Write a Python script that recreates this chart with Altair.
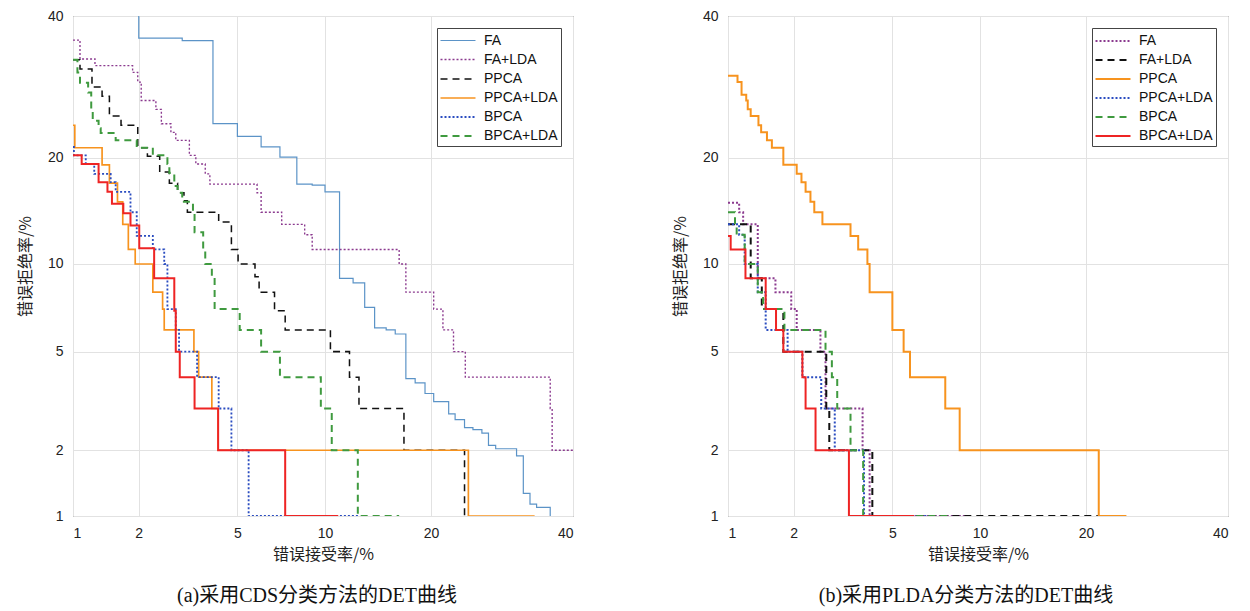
import altair as alt
import pandas as pd
from statistics import NormalDist

# ---------------- text ----------------
TICKS = [1, 2, 5, 10, 20, 40]
X_TITLE = "错误接受率/%"
Y_TITLE = "错误拒绝率/%"
CAPTION_A = "(a)采用CDS分类方法的DET曲线"
CAPTION_B = "(b)采用PLDA分类方法的DET曲线"
NAMES = ["FA", "FA+LDA", "PPCA", "PPCA+LDA", "BPCA", "BPCA+LDA"]

# ---------------- panel (a): (false accept %, false reject %) step points ----------------
A_FA = [(2.0, 60), (2.0, 36.5), (3.05, 36.1), (4.04, 24.2), (5.0, 22.6), (6.1, 21.3), (7.1, 20.1),
        (8.1, 17.1), (9.1, 17.0), (10.0, 16.3), (11.1, 9.0), (12.2, 8.7), (13.2, 7.2), (14.1, 6.1),
        (15.2, 6.0), (16.1, 5.8), (17.2, 3.95), (18.2, 3.8), (19.3, 3.45), (20.3, 3.2), (22.1, 2.85),
        (22.9, 2.7), (24.1, 2.5), (25.2, 2.45), (26.4, 2.37), (27.3, 2.1), (28.3, 2.03), (31.3, 1.89),
        (32.3, 1.28), (33.3, 1.14), (34.3, 1.1), (36.4, 1.0)]
A_FA_LDA = [(1.0, 36.2), (1.08, 33.3), (1.27, 32.3), (1.88, 31.3), (1.98, 29.9), (2.05, 27.3),
            (2.37, 26.1), (2.5, 24.2), (2.74, 23.1), (2.87, 22.1), (3.26, 20.3), (3.46, 19.3),
            (3.77, 18.2), (3.93, 17.1), (5.9, 16.2), (6.1, 14.3), (7.2, 13.2), (8.6, 12.3), (9.1, 11.1),
            (16.5, 10.0), (17.2, 8.1), (20.3, 7.1), (21.4, 6.0), (22.7, 5.0), (24.2, 4.0), (36.4, 3.0),
            (36.7, 2.0), (40.0, 2.0)]
A_PPCA = [(1.0, 33.2), (1.08, 31.8), (1.23, 29.2), (1.37, 27.9), (1.48, 25.2), (1.67, 24.0),
          (1.98, 21.2), (2.18, 20.2), (2.46, 18.4), (2.7, 17.2), (2.92, 16.2), (3.1, 15.4), (3.2, 14.3),
          (4.25, 13.4), (4.75, 11.1), (5.03, 10.0), (5.8, 9.1), (6.0, 8.1), (6.8, 7.0), (7.4, 6.0),
          (10.4, 5.0), (11.9, 4.0), (12.7, 3.0), (17.0, 2.0), (24.1, 1.0)]
A_PPCA_LDA = [(1.0, 24.0), (1.02, 21.2), (1.37, 19.2), (1.48, 17.2), (1.61, 15.3), (1.7, 13.2),
              (1.8, 11.1), (1.93, 10.0), (2.3, 8.1), (2.53, 7.1), (2.57, 6.0), (3.4, 5.0), (3.55, 4.0),
              (4.0, 3.0), (4.23, 2.0), (24.6, 1.0), (34.0, 1.0)]
A_BPCA = [(1.0, 21.3), (1.01, 20.3), (1.15, 19.3), (1.26, 18.2), (1.5, 17.3), (1.58, 16.3),
          (1.84, 14.3), (1.96, 12.2), (2.3, 11.1), (2.57, 10.0), (2.65, 7.1), (2.87, 6.0), (2.96, 5.0),
          (3.5, 4.0), (4.25, 3.0), (4.75, 2.0), (5.5, 1.0), (12.7, 1.0)]
A_BPCA_LDA = [(1.0, 33.2), (1.05, 31.3), (1.08, 29.8), (1.18, 28.4), (1.22, 26.1), (1.24, 24.6),
              (1.32, 23.6), (1.35, 23.0), (1.58, 22.1), (1.96, 21.2), (2.3, 20.3), (2.65, 19.3),
              (2.7, 18.3), (2.83, 16.9), (2.92, 16.2), (3.05, 15.3), (3.37, 14.3), (3.42, 12.5),
              (3.7, 11.1), (3.77, 10.0), (4.0, 9.1), (4.1, 7.1), (5.1, 6.0), (6.1, 5.0), (7.1, 4.0),
              (9.7, 3.0), (10.5, 2.0), (12.6, 1.0), (16.5, 1.0)]
A_EXTRA_RED = [(1.0, 20.3), (1.1, 19.3), (1.32, 17.3), (1.45, 16.3), (1.52, 15.1), (1.71, 14.2),
               (1.84, 13.1), (2.01, 11.2), (2.33, 9.0), (2.83, 7.0), (2.87, 5.0), (2.98, 4.0),
               (3.42, 3.0), (4.23, 2.0), (7.4, 1.0), (11.0, 1.0)]

# ---------------- panel (b) ----------------
B_FA = [(1.0, 15.2), (1.13, 14.3), (1.18, 13.2), (1.38, 9.0), (1.66, 8.1), (1.95, 7.1), (2.06, 6.0),
        (2.6, 5.0), (2.73, 3.0), (3.85, 2.0), (4.1, 1.0), (9.2, 1.0)]
B_FA_LDA = [(1.0, 13.2), (1.28, 9.0), (1.44, 7.1), (1.8, 5.0), (2.75, 3.0), (2.83, 2.0), (4.2, 1.0),
            (21.4, 1.0)]
B_PPCA = [(1.0, 30.8), (1.11, 29.9), (1.16, 28.1), (1.22, 27.3), (1.24, 26.1), (1.28, 25.2),
          (1.39, 24.0), (1.43, 23.1), (1.52, 22.1), (1.6, 21.2), (1.8, 19.2), (2.06, 18.2),
          (2.16, 17.3), (2.25, 16.3), (2.36, 15.3), (2.45, 14.3), (2.65, 13.2), (3.45, 12.2),
          (3.7, 11.1), (4.02, 10.0), (4.1, 8.1), (5.0, 6.0), (5.5, 5.0), (5.8, 4.0), (7.7, 3.0),
          (8.6, 2.0), (21.5, 1.0), (25.0, 1.0)]
B_PPCA_LDA = [(1.0, 13.2), (1.13, 12.3), (1.2, 10.0), (1.38, 8.1), (1.5, 6.0), (1.88, 5.0),
              (2.18, 4.0), (2.62, 3.0), (2.98, 2.0), (3.9, 1.0), (7.0, 1.0)]
B_BPCA = [(1.0, 14.3), (1.08, 13.2), (1.1, 12.3), (1.2, 10.0), (1.38, 8.1), (1.46, 7.1), (1.82, 6.0),
          (2.73, 5.0), (2.9, 4.0), (3.05, 3.0), (3.45, 2.0), (3.87, 1.0), (8.0, 1.0)]
B_BPCA_LDA = [(1.0, 12.2), (1.03, 11.1), (1.21, 9.0), (1.5, 7.1), (1.67, 6.0), (1.8, 5.0),
              (2.18, 4.0), (2.25, 3.0), (2.48, 2.0), (3.4, 1.0), (6.0, 1.0)]

# ---------------- styles ----------------
C_BLUE_THIN = "#5b93c7"
C_PURPLE = "#8b3a8f"
C_BLACK = "#111111"
C_ORANGE = "#f7931e"
C_BLUE = "#2a4cc0"
C_GREEN = "#3f9a3f"
C_RED = "#ee2424"
SOLID, DOT, DASH = [1, 0], [2, 2], [7, 5]

A_STYLE = dict(colors=[C_BLUE_THIN, C_PURPLE, C_BLACK, C_ORANGE, C_BLUE, C_GREEN],
               dashes=[SOLID, DOT, DASH, SOLID, DOT, DASH],
               widths=[1.2, 2, 2, 2, 2, 2])
B_STYLE = dict(colors=[C_PURPLE, C_BLACK, C_ORANGE, C_BLUE, C_GREEN, C_RED],
               dashes=[DOT, DASH, SOLID, DOT, DASH, SOLID],
               widths=[2, 2, 2, 2, 2, 2])

LABEL_FONT = "Liberation Sans Narrow, Liberation Sans, Arial, sans-serif"
LEGEND_FONT = "Liberation Sans, Arial, sans-serif"
CJK_FONT = "Noto Sans CJK SC, sans-serif"
CAP_FONT = "Liberation Serif, Noto Sans CJK SC, serif"

nd = NormalDist()


def z(p):
    return nd.inv_cdf(p / 100.0)


LO, HI = z(TICKS[0]), z(TICKS[-1])
TICK_Z = [z(t) for t in TICKS]


def to_df(series):
    rows = []
    for name, pts in series:
        for i, (x, y) in enumerate(pts):
            rows.append({"series": name, "i": i, "far": x, "frr": y})
    return pd.DataFrame(rows)


def enc_xy():
    x = alt.X("zx:Q",
              scale=alt.Scale(domain=[LO, HI], nice=False, zero=False),
              axis=alt.Axis(values=TICK_Z, title=X_TITLE,
                            labelExpr="round(cumulativeNormal(datum.value)*100)"))
    y = alt.Y("zy:Q",
              scale=alt.Scale(domain=[LO, HI], nice=False, zero=False),
              axis=alt.Axis(values=TICK_Z, title=Y_TITLE,
                            labelExpr="round(cumulativeNormal(datum.value)*100)"))
    return x, y


def base(df):
    return alt.Chart(df).transform_calculate(
        zx="quantileNormal(datum.far / 100)",
        zy="quantileNormal(datum.frr / 100)")


def panel(series, style, caption, dx, extra=None):
    x, y = enc_xy()
    lines = base(to_df(series)).mark_line(
        interpolate="step-after", clip=True, strokeCap="butt").encode(
        x=x, y=y,
        color=alt.Color("series:N", title=None,
                        scale=alt.Scale(domain=NAMES, range=style["colors"])),
        strokeDash=alt.StrokeDash("series:N", title=None,
                                  scale=alt.Scale(domain=NAMES, range=style["dashes"])),
        strokeWidth=alt.StrokeWidth("series:N", title=None,
                                    scale=alt.Scale(domain=NAMES, range=style["widths"])),
        order=alt.Order("i:Q"))
    layers = [lines]
    if extra is not None:
        x2, y2 = enc_xy()
        layers.append(base(to_df([("extra", extra)])).mark_line(
            interpolate="step-after", clip=True, color=C_RED, strokeWidth=2).encode(
            x=x2, y=y2, order=alt.Order("i:Q")))
    return alt.layer(*layers).properties(
        width=500, height=500,
        title=alt.TitleParams(caption, orient="bottom", anchor="middle", frame="group",
                              offset=24, dx=dx, font=CAP_FONT, fontSize=20,
                              fontWeight="normal", color="#111"))


pa = panel([("FA", A_FA), ("FA+LDA", A_FA_LDA), ("PPCA", A_PPCA), ("PPCA+LDA", A_PPCA_LDA),
            ("BPCA", A_BPCA), ("BPCA+LDA", A_BPCA_LDA)], A_STYLE, CAPTION_A, -6, extra=A_EXTRA_RED)
pb = panel([("FA", B_FA), ("FA+LDA", B_FA_LDA), ("PPCA", B_PPCA), ("PPCA+LDA", B_PPCA_LDA),
            ("BPCA", B_BPCA), ("BPCA+LDA", B_BPCA_LDA)], B_STYLE, CAPTION_B, -12)

chart = alt.hconcat(pa, pb, spacing=97).properties(
    padding={"left": 8, "top": 0, "right": 5, "bottom": 0}
).resolve_scale(color="independent", strokeDash="independent", strokeWidth="independent"
).configure_view(stroke="#4d4d4d", strokeWidth=1
).configure_axis(
    grid=True, gridColor="#e2e2e2", gridWidth=1, domain=False, ticks=False,
    labelPadding=10, labelFont=LABEL_FONT, labelFontSize=14, labelColor="#222",
    titleFont=CJK_FONT, titleFontSize=16, titleFontWeight="normal", titleColor="#222"
).configure_axisX(titlePadding=6
).configure_axisY(titlePadding=14
).configure_legend(
    orient="top-right", offset=12, padding=3, rowPadding=2,
    strokeColor="#444", fillColor="white", cornerRadius=0,
    symbolType="M-2,0L2,0", symbolSize=306, symbolOffset=8,
    labelFont=LEGEND_FONT, labelFontSize=14,
    labelColor="#111", labelOffset=16, titlePadding=0
)

chart.save("out.html", embed_options={"renderer": "svg", "actions": False})
